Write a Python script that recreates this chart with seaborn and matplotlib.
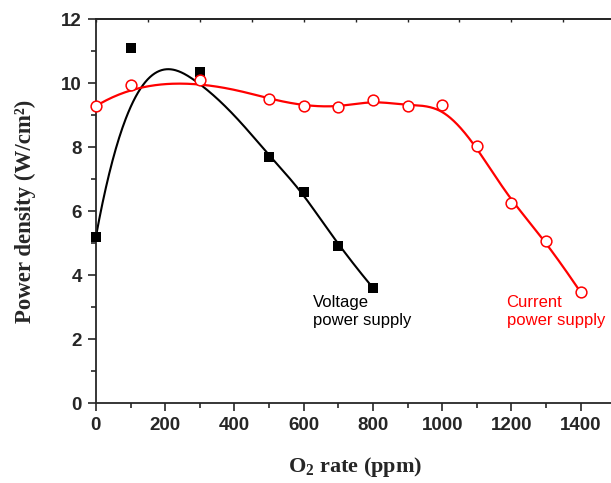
import seaborn as sns
import matplotlib.pyplot as plt
import numpy as np
import pandas as pd

# Données
voltage_x = [0, 100, 300, 500, 600, 700, 800]
voltage_y = [5.2, 11.1, 10.35, 7.7, 6.6, 4.9, 3.6]

current_x = [0, 100, 300, 500, 600, 700, 800, 900, 1000, 1100, 1200, 1300, 1400]
current_y = [9.28, 9.94, 10.11, 9.5, 9.29, 9.24, 9.46, 9.29, 9.31, 8.03, 6.24, 5.07, 3.46]

x_ticks = [0, 200, 400, 600, 800, 1000, 1200, 1400]
y_ticks = [0, 2, 4, 6, 8, 10, 12]


def bspline(x, y, n=500, deg=3):
    # B-spline (type Origin) : les points servent de points de contrôle
    P = np.column_stack([x, y]).astype(float)
    k = len(P)
    knots = np.concatenate([np.zeros(deg), np.linspace(0, 1, k - deg + 1), np.ones(deg)])
    u = np.linspace(0, 1 - 1e-9, n)
    N = np.zeros((n, len(knots) - 1))
    for i in range(len(knots) - 1):
        N[:, i] = (u >= knots[i]) & (u < knots[i + 1])
    for d in range(1, deg + 1):
        Nn = np.zeros((n, len(knots) - 1 - d))
        for i in range(len(knots) - 1 - d):
            a = knots[i + d] - knots[i]
            b = knots[i + d + 1] - knots[i + 1]
            left = (u - knots[i]) / a * N[:, i] if a > 0 else 0
            right = (knots[i + d + 1] - u) / b * N[:, i + 1] if b > 0 else 0
            Nn[:, i] = left + right
        N = Nn
    C = N @ P
    C[-1] = P[-1]
    return C[:, 0], C[:, 1]


df_v = pd.DataFrame({'x': voltage_x, 'y': voltage_y})
df_c = pd.DataFrame({'x': current_x, 'y': current_y})
vx, vy = bspline(voltage_x, voltage_y)
cx, cy = bspline(current_x, current_y)
df_vs = pd.DataFrame({'x': vx, 'y': vy})
df_cs = pd.DataFrame({'x': cx, 'y': cy})

sns.set_style('ticks')
plt.rcParams['font.family'] = ['Liberation Sans', 'DejaVu Sans']
plt.rcParams['mathtext.default'] = 'regular'

fig = plt.figure(figsize=(6.11, 4.83), dpi=100)
ax = fig.add_axes([0.157, 0.1656, 0.85, 0.795])

sns.lineplot(data=df_vs, x='x', y='y', color='black', lw=1.5, estimator=None, sort=False, ax=ax)
sns.lineplot(data=df_cs, x='x', y='y', color='red', lw=1.6, estimator=None, sort=False, ax=ax)

sns.scatterplot(data=df_v, x='x', y='y', marker='s', color='black', s=45,
                edgecolor='black', linewidth=0, ax=ax, zorder=5, clip_on=False)
sns.scatterplot(data=df_c, x='x', y='y', marker='o', facecolor='white', s=60,
                edgecolor='red', linewidth=1.1, ax=ax, zorder=6, clip_on=False)

ax.set_xlim(0, 1500)
ax.set_ylim(0, 12)
ax.set_xticks(x_ticks)
ax.set_yticks(y_ticks)
ax.set_xticks(np.arange(100, 1500, 200), minor=True)
ax.set_yticks(np.arange(1, 12, 2), minor=True)
ax.tick_params(which='major', length=6, width=1.2, labelsize=13.5, pad=4)
ax.tick_params(which='minor', length=3.5, width=1.2)
for lab in ax.get_xticklabels() + ax.get_yticklabels():
    lab.set_fontweight('bold')

for side in ['left', 'bottom', 'top']:
    ax.spines[side].set_linewidth(1.3)
    ax.spines[side].set_visible(True)
ax.spines['right'].set_visible(False)

top = ax.secondary_xaxis('top')
top.set_xticks(np.arange(0, 1501, 150))
top.tick_params(length=2, direction='in', labeltop=False, width=1)
top.spines['top'].set_linewidth(1.3)

ax.set_xlabel('O$_2$ rate (ppm)', family='Liberation Serif', fontweight='bold', fontsize=16, labelpad=15)
ax.set_ylabel('Power density (W/cm²)', family='Liberation Serif', fontweight='bold', fontsize=16.5, labelpad=18)

ax.text(628, 3.38, 'Voltage\npower supply', fontsize=12, color='black', va='top', ha='left', linespacing=1.3)
ax.text(1186, 3.38, 'Current\npower supply', fontsize=12, color='red', va='top', ha='left', linespacing=1.3)

fig.savefig('out.png', dpi=100)
